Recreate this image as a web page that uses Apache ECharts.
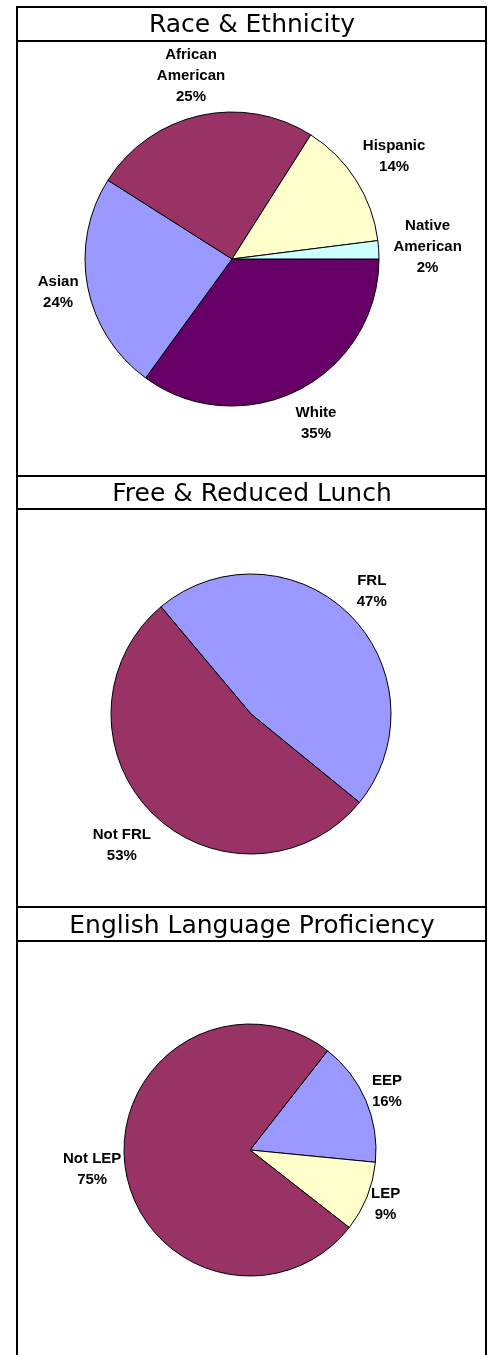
<!DOCTYPE html>
<html>
<head>
<meta charset="utf-8">
<script src="https://cdn.jsdelivr.net/npm/echarts@6/dist/echarts.min.js"></script>
<style>
  html, body { margin: 0; padding: 0; background: #fff; }
  #chart { width: 491px; height: 1355px; }
</style>
</head>
<body>
<div id="chart"></div>
<script>
// data (percent of students)
var raceNames = ['White', 'Asian', 'African American', 'Hispanic', 'Native American'];
var raceValues = [35, 24, 25, 14, 2];

var lunchNames = ['FRL', 'Not FRL'];
var lunchValues = [47, 53];

var langNames = ['EEP', 'LEP', 'Not LEP'];
var langValues = [16, 9, 75];

var titles = ['Race & Ethnicity', 'Free & Reduced Lunch', 'English Language Proficiency'];

// colours + how far each label sits off the pie edge
function buildData(names, values, colors, lineLens) {
  return names.map(function (n, i) {
    return {
      name: n,
      value: values[i],
      itemStyle: { color: colors[i] },
      labelLine: { length: lineLens[i] }
    };
  });
}

function pieSeries(data, center, radius, startAngle, splitName) {
  return {
    type: 'pie',
    center: center,
    radius: radius,
    startAngle: startAngle,
    clockwise: true,
    avoidLabelOverlap: false,
    silent: true,
    itemStyle: { borderColor: '#000', borderWidth: 1 },
    label: {
      show: true,
      position: 'outside',
      distanceToLabelLine: 0,
      color: '#000',
      fontFamily: 'Liberation Sans',
      fontWeight: 'bold',
      fontSize: 15,
      lineHeight: 21,
      formatter: function (p) {
        var n = splitName ? p.name.replace(' ', '\n') : p.name;
        return n + '\n' + p.value + '%';
      }
    },
    labelLine: { show: false, length2: 0 },
    labelLayout: { align: 'center', verticalAlign: 'middle' },
    data: data
  };
}

var chartDom = document.getElementById('chart');
var myChart = echarts.init(chartDom);
var option;

var titleTops = [13, 482, 914];
var lineYs = [41, 476, 509, 907, 941];

option = {
  animation: false,
  backgroundColor: '#fff',
  title: titles.map(function (t, i) {
    return {
      text: t,
      left: 252,
      top: titleTops[i],
      textAlign: 'center',
      padding: 0,
      textStyle: {
        fontFamily: 'DejaVu Sans',
        fontWeight: 'normal',
        fontSize: 25,
        color: '#000'
      }
    };
  }),
  graphic: [
    {
      type: 'rect',
      shape: { x: 17, y: 7, width: 469, height: 1360 },
      style: { fill: 'none', stroke: '#000', lineWidth: 2 }
    }
  ].concat(lineYs.map(function (y) {
    return {
      type: 'line',
      shape: { x1: 17, y1: y, x2: 486, y2: y },
      style: { stroke: '#000', lineWidth: 2 }
    };
  })),
  series: [
    pieSeries(buildData(raceNames, raceValues,
      ['#660066', '#9999ff', '#993366', '#ffffcc', '#ccffff'], [38, 30, 41, 45, 49]),
      [232, 259], 147, 0, true),
    pieSeries(buildData(lunchNames, lunchValues,
      ['#9999ff', '#993366'], [32, 44]),
      [251, 714], 140, 130, false),
    pieSeries(buildData(langNames, langValues,
      ['#9999ff', '#ffffcc', '#993366'], [23, 20, 33]),
      [250, 1150], 126, 52, false)
  ]
};

option && myChart.setOption(option);
</script>
</body>
</html>
